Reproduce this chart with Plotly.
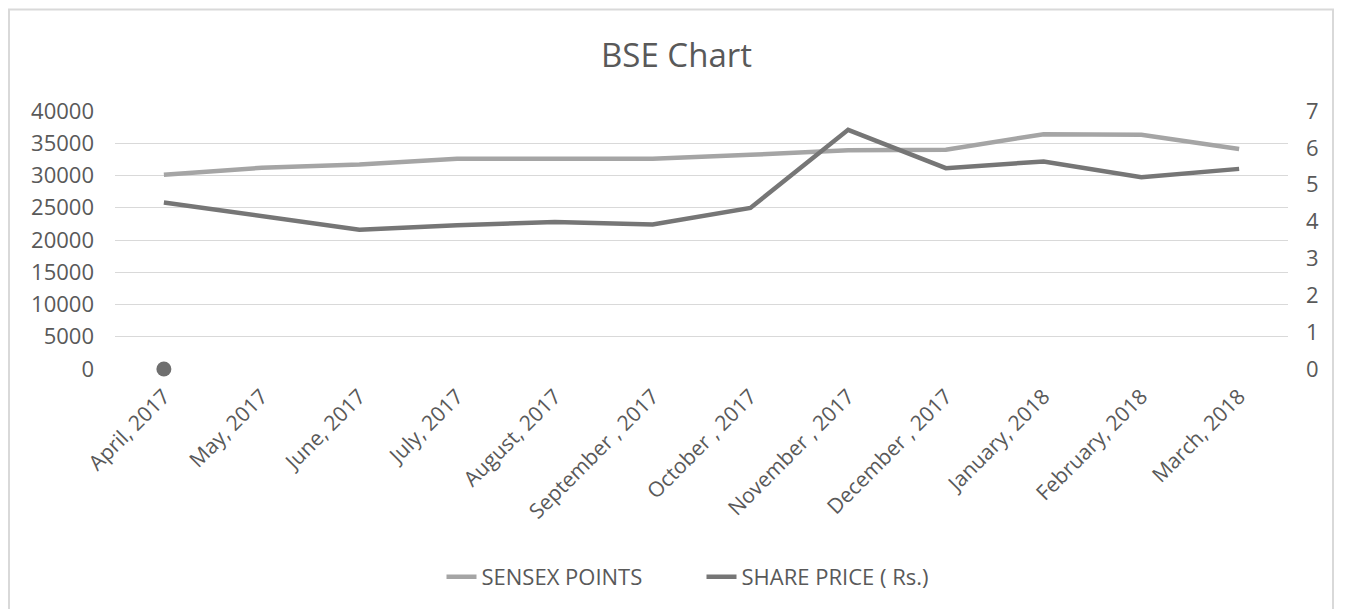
import plotly.graph_objects as go

months = ["April, 2017", "May, 2017", "June, 2017", "July, 2017", "August, 2017",
          "September , 2017", "October , 2017", "November , 2017", "December , 2017",
          "January, 2018", "February, 2018", "March, 2018"]
sensex_points = [30100, 31200, 31700, 32600, 32600, 32600, 33200, 33900, 34000, 36400, 36300, 34100]
share_price = [4.52, 4.16, 3.78, 3.90, 3.99, 3.92, 4.37, 6.49, 5.45, 5.63, 5.20, 5.43]
stray_point_x = ["April, 2017"]
stray_point_y = [0]

left_ticks = [0, 5000, 10000, 15000, 20000, 25000, 30000, 35000, 40000]
right_ticks = [0, 1, 2, 3, 4, 5, 6, 7]

FONT = "Open Sans"
TXT = "#595959"

# page body has an 8px margin; figure is sized/positioned to compensate
W, H = 1337, 601
ML, MR, MT, MB = 107, 57, 103, 239
PW = W - ML - MR
PH = H - MT - MB

fig = go.Figure()
fig.add_trace(go.Scatter(x=months, y=sensex_points, name="SENSEX POINTS", mode="lines",
                         line=dict(color="#a5a5a5", width=4.5)))
fig.add_trace(go.Scatter(x=months, y=share_price, name="SHARE PRICE ( Rs.)", mode="lines",
                         line=dict(color="#767676", width=4.5), yaxis="y2"))
fig.add_trace(go.Scatter(x=stray_point_x, y=stray_point_y, mode="markers", showlegend=False,
                         cliponaxis=False, marker=dict(color="#6f6f6f", size=15)))

fig.update_layout(
    width=W, height=H,
    margin=dict(l=ML, r=MR, t=MT, b=MB),
    paper_bgcolor="white", plot_bgcolor="white",
    font=dict(family=FONT, color=TXT, size=18),
    title=dict(text="BSE Chart", x=0.5, xanchor="center", y=1 - 47 / H, yanchor="middle",
               font=dict(size=33, color=TXT, family=FONT)),
    xaxis=dict(type="category", tickangle=-45, showgrid=False, zeroline=False, showline=False,
               tickfont=dict(size=21, color=TXT), ticks="outside", ticklen=6, tickcolor="rgba(0,0,0,0)",
               range=[-0.5, 11.5]),
    yaxis=dict(range=[0, 40000], tickvals=left_ticks, tickformat="d", showgrid=True,
               gridcolor="#d9d9d9", gridwidth=1.2, zeroline=False, showline=False, ticks="",
               ticklabelstandoff=20, tickfont=dict(size=22, color=TXT)),
    yaxis2=dict(range=[0, 7], tickvals=right_ticks, overlaying="y", side="right", showgrid=False,
                zeroline=False, showline=False, ticks="", ticklabelstandoff=17,
                tickfont=dict(size=22, color=TXT)),
    legend=dict(orientation="h", x=0.5, xanchor="center", y=-(569 - MT - PH) / PH, yanchor="middle",
                font=dict(size=22, color=TXT), bgcolor="rgba(0,0,0,0)", entrywidth=215),
    showlegend=True,
)

# outer chart frame
fig.add_shape(type="rect", xref="paper", yref="paper",
              x0=(1 - ML) / PW, x1=(1325 - ML) / PW,
              y0=-(640 - MT - PH) / PH, y1=(MT + PH - 1) / PH,
              line=dict(color="#d9d9d9", width=2), fillcolor="rgba(0,0,0,0)", layer="below")

fig.write_html("out.html")
